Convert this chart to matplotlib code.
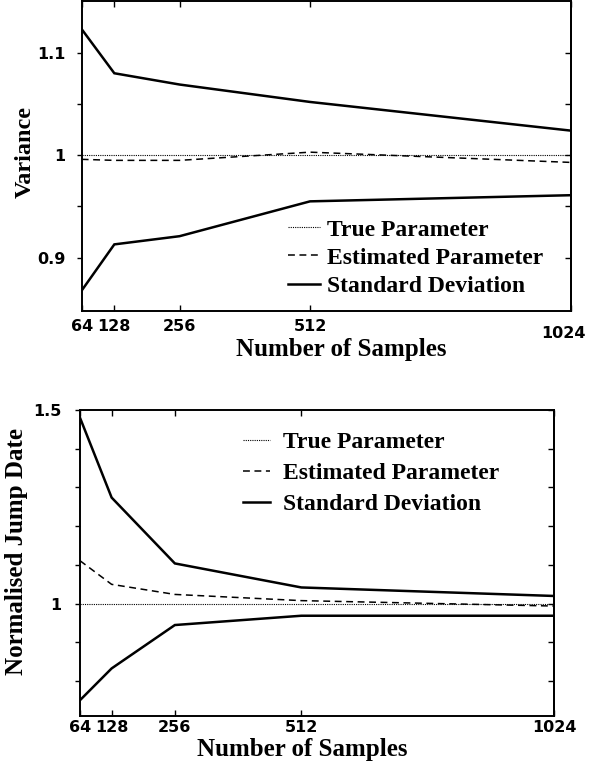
import matplotlib
matplotlib.use("Agg")
import matplotlib.pyplot as plt
import matplotlib.transforms as mtransforms

# ---- data -------------------------------------------------------------
samples = [64, 128, 256, 512, 1024]
sample_labels = ["64", "128", "256", "512", "1024"]

var_true = [1.0, 1.0, 1.0, 1.0, 1.0]
var_est = [0.996, 0.995, 0.995, 1.003, 0.993]
var_sd_upper = [1.123, 1.080, 1.069, 1.052, 1.024]
var_sd_lower = [0.868, 0.913, 0.921, 0.955, 0.961]

jump_true = [1.0, 1.0, 1.0, 1.0, 1.0]
jump_est = [1.111, 1.050, 1.024, 1.008, 0.994]
jump_sd_upper = [1.480, 1.274, 1.104, 1.042, 1.020]
jump_sd_lower = [0.751, 0.833, 0.945, 0.969, 0.969]

var_yticks = [0.9, 0.95, 1.0, 1.05, 1.1]
var_yticklabels = ["0.9", "", "1", "", "1.1"]
jump_yticks = [0.8, 0.9, 1.0, 1.1, 1.2, 1.3, 1.4, 1.5]
jump_yticklabels = ["", "", "1", "", "", "", "", "1.5"]

legend_labels = ["True Parameter", "Estimated Parameter", "Standard Deviation"]

# ---- style ------------------------------------------------------------
SERIF = "Liberation Serif"
SANS = "DejaVu Sans"
W, H = 592, 767
fig = plt.figure(figsize=(W / 100, H / 100), dpi=100)


def px_axes(left, top, right, bottom):
    return fig.add_axes([left / W, 1 - bottom / H, (right - left) / W, (bottom - top) / H])


def style_axes(ax, yticks, yticklabels, xpad, ypad):
    for s in ax.spines.values():
        s.set_linewidth(1.4)
    ax.set_xlim(64, 1024)
    ax.set_xticks(samples)
    ax.set_xticklabels(sample_labels)
    ax.set_yticks(yticks)
    ax.set_yticklabels(yticklabels)
    ax.tick_params(axis="x", which="both", direction="in", top=True, length=4,
                   width=1.0, pad=xpad)
    ax.tick_params(axis="y", which="both", direction="out", left=True, length=3.6,
                   width=1.0, pad=ypad)
    # inward ticks on the right edge
    ax2 = ax.secondary_yaxis("right")
    ax2.set_yticks(yticks)
    ax2.set_yticklabels([])
    ax2.tick_params(direction="in", length=4, width=1.0)
    ax2.spines["right"].set_linewidth(1.4)
    for lab in ax.get_xticklabels() + ax.get_yticklabels():
        lab.set_fontfamily(SANS)
        lab.set_fontweight("bold")
        lab.set_fontsize(11.5)


def draw_series(ax, est, upper, lower, true):
    ax.plot(samples, true, color="black", lw=0.8, linestyle=(0, (1, 1)),
            label=legend_labels[0])
    ax.plot(samples, est, color="black", lw=1.1, linestyle=(0, (4.5, 3)),
            label=legend_labels[1])
    ax.plot(samples, upper, color="black", lw=1.8, solid_joinstyle="miter",
            label=legend_labels[2])
    ax.plot(samples, lower, color="black", lw=1.8, solid_joinstyle="miter")


legend_font = {"family": SERIF, "weight": "bold", "size": 17}

# ---- top panel: variance ---------------------------------------------
ax1 = px_axes(81.7, 0.5, 571, 311)
draw_series(ax1, var_est, var_sd_upper, var_sd_lower, var_true)
ax1.set_ylim(0.848, 1.151)
style_axes(ax1, var_yticks, var_yticklabels, xpad=6, ypad=8)
# last tick label sits a little lower and to the left
lab = ax1.get_xticklabels()[-1]
lab.set_transform(lab.get_transform() + mtransforms.ScaledTranslation(-8 / 100, -7 / 100,
                                                                      fig.dpi_scale_trans))
ax1.set_ylabel("Variance", fontfamily=SERIF, fontweight="bold", fontsize=17.5,
               va="center")
ax1.yaxis.set_label_coords(-0.1159, 0.513)
ax1.set_xlabel("Number of Samples", fontfamily=SERIF, fontweight="bold", fontsize=18,
               va="center")
ax1.xaxis.set_label_coords(0.53, -0.1256)
ax1.legend(loc="upper left", bbox_to_anchor=(0.4216, 0.296), frameon=False,
           prop=legend_font, handlelength=1.35, handletextpad=0.3,
           labelspacing=0.28, borderpad=0, borderaxespad=0)

# ---- bottom panel: normalised jump date ------------------------------
ax2 = px_axes(80, 410, 554.3, 715.7)
draw_series(ax2, jump_est, jump_sd_upper, jump_sd_lower, jump_true)
ax2.set_ylim(0.711, 1.5)
style_axes(ax2, jump_yticks, jump_yticklabels, xpad=3, ypad=10)
ax2.set_ylabel("Normalised Jump Date", fontfamily=SERIF, fontweight="bold", fontsize=18,
               va="center")
ax2.yaxis.set_label_coords(-0.1335, 0.5355)
ax2.set_xlabel("Number of Samples", fontfamily=SERIF, fontweight="bold", fontsize=18,
               va="center")
ax2.xaxis.set_label_coords(0.468, -0.109)
ax2.legend(loc="upper left", bbox_to_anchor=(0.344, 0.930), frameon=False,
           prop=legend_font, handlelength=1.15, handletextpad=0.55,
           labelspacing=0.41, borderpad=0, borderaxespad=0)

fig.savefig("out.png", dpi=100)
